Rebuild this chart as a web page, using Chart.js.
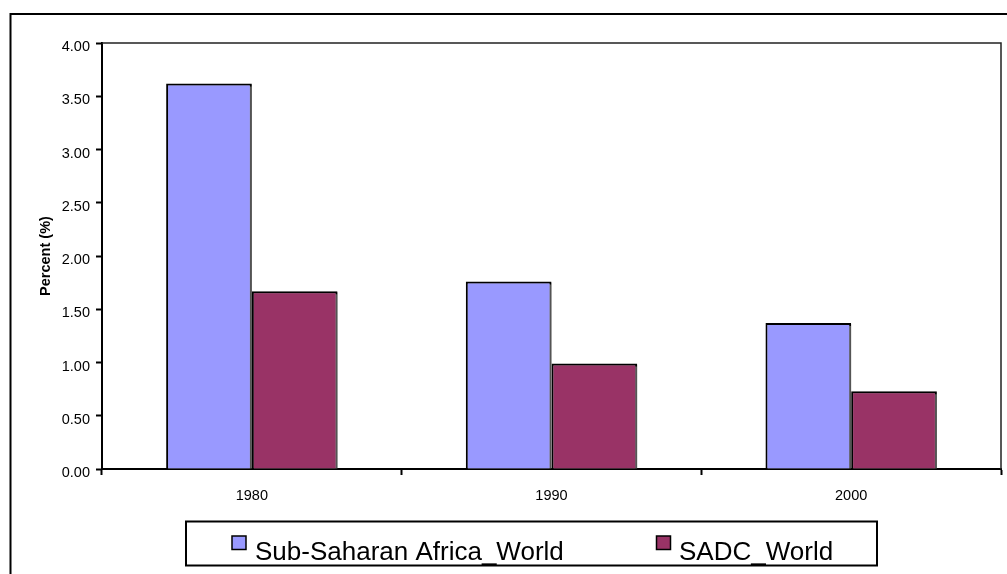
<!DOCTYPE html>
<html>
<head>
<meta charset="utf-8">
<style>
  html, body { margin: 0; padding: 0; background: #fff; overflow: hidden; }
  canvas { display: block; }
</style>
<script src="https://cdn.jsdelivr.net/npm/chart.js@4/dist/chart.umd.min.js"></script>
</head>
<body>
<canvas id="chart" width="1007" height="574"></canvas>
<script>
// Share of world, in percent
const years = ['1980', '1990', '2000'];
const subSaharanWorld = [3.62, 1.76, 1.37];
const sadcWorld = [1.67, 0.99, 0.73];
const seriesNames = ['Sub-Saharan Africa_World', 'SADC_World'];
const seriesColors = ['#9999FF', '#993366'];

const FONT = '"Liberation Sans", Arial, sans-serif';

// Outer frame, plot frame and bar shadows
const framePlugin = {
  id: 'frames',
  beforeDraw(chart) {
    const ctx = chart.ctx;
    ctx.save();
    ctx.fillStyle = '#fff';
    ctx.fillRect(0, 0, chart.width, chart.height);
    ctx.strokeStyle = '#000';
    ctx.lineWidth = 2;
    ctx.strokeRect(10.5, 14, 1010, 600);
    ctx.restore();
  },
  beforeDatasetsDraw(chart) {
    const ctx = chart.ctx;
    const a = chart.chartArea;
    ctx.save();
    ctx.strokeStyle = '#222';
    ctx.lineWidth = 1.5;
    ctx.beginPath();
    ctx.moveTo(a.left, a.top);
    ctx.lineTo(a.right, a.top);
    ctx.lineTo(a.right, a.bottom);
    ctx.stroke();
    ctx.restore();
    ctx.save();
    ctx.shadowColor = 'rgba(120,120,120,0.7)';
    ctx.shadowOffsetX = 2;
    ctx.shadowOffsetY = 1;
    ctx.shadowBlur = 0;
  },
  afterDatasetsDraw(chart) {
    chart.ctx.restore();
  }
};

// Boxed legend under the plot
const boxLegendPlugin = {
  id: 'boxLegend',
  afterDraw(chart) {
    const ctx = chart.ctx;
    const box = { x: 186, y: 521.5, w: 691, h: 44 };
    const items = [
      { sx: 232, tx: 255 },
      { sx: 656.5, tx: 679 }
    ];
    ctx.save();
    ctx.strokeStyle = '#000';
    ctx.lineWidth = 2;
    ctx.fillStyle = '#fff';
    ctx.fillRect(box.x, box.y, box.w, box.h);
    ctx.strokeRect(box.x, box.y, box.w, box.h);
    ctx.font = '26px ' + FONT;
    ctx.textBaseline = 'alphabetic';
    ctx.textAlign = 'left';
    chart.data.datasets.forEach((ds, i) => {
      const it = items[i];
      ctx.fillStyle = ds.backgroundColor;
      ctx.fillRect(it.sx, 536, 14, 13.5);
      ctx.lineWidth = 1.5;
      ctx.strokeStyle = '#000';
      ctx.strokeRect(it.sx, 536, 14, 13.5);
      ctx.fillStyle = '#000';
      ctx.fillText(ds.label, it.tx, 560);
    });
    ctx.restore();
  }
};

new Chart(document.getElementById('chart'), {
  type: 'bar',
  data: {
    labels: years,
    datasets: [
      {
        label: seriesNames[0],
        data: subSaharanWorld,
        backgroundColor: seriesColors[0],
        borderColor: '#000',
        borderWidth: 2
      },
      {
        label: seriesNames[1],
        data: sadcWorld,
        backgroundColor: seriesColors[1],
        borderColor: '#000',
        borderWidth: 2
      }
    ]
  },
  options: {
    responsive: false,
    devicePixelRatio: 1,
    animation: false,
    layout: { padding: { top: 43, right: 6, left: 0, bottom: 0 } },
    datasets: {
      bar: { categoryPercentage: 0.572, barPercentage: 1.0 }
    },
    plugins: {
      legend: { display: false },
      tooltip: { enabled: false }
    },
    scales: {
      x: {
        afterFit(scale) { scale.height = 105; },
        grid: {
          offset: true,
          drawOnChartArea: false,
          drawTicks: true,
          tickLength: 6,
          tickWidth: 2,
          tickColor: '#000'
        },
        border: { display: true, color: '#000', width: 2 },
        ticks: {
          color: '#000',
          padding: 12,
          font: { family: FONT, size: 14.5 }
        }
      },
      y: {
        min: 0,
        max: 4,
        afterFit(scale) { scale.width = 102; },
        grid: {
          drawOnChartArea: false,
          drawTicks: true,
          tickLength: 6,
          tickWidth: 2,
          tickColor: '#000'
        },
        border: { display: true, color: '#000', width: 2 },
        ticks: {
          stepSize: 0.5,
          color: '#000',
          padding: 6,
          labelOffset: 4,
          font: { family: FONT, size: 14.5 },
          callback: v => Number(v).toFixed(2)
        },
        title: {
          display: true,
          text: 'Percent (%)',
          color: '#000',
          padding: { top: 37, bottom: 0 },
          font: { family: FONT, size: 14.5, weight: 'bold' }
        }
      }
    }
  },
  plugins: [framePlugin, boxLegendPlugin]
});
</script>
</body>
</html>
